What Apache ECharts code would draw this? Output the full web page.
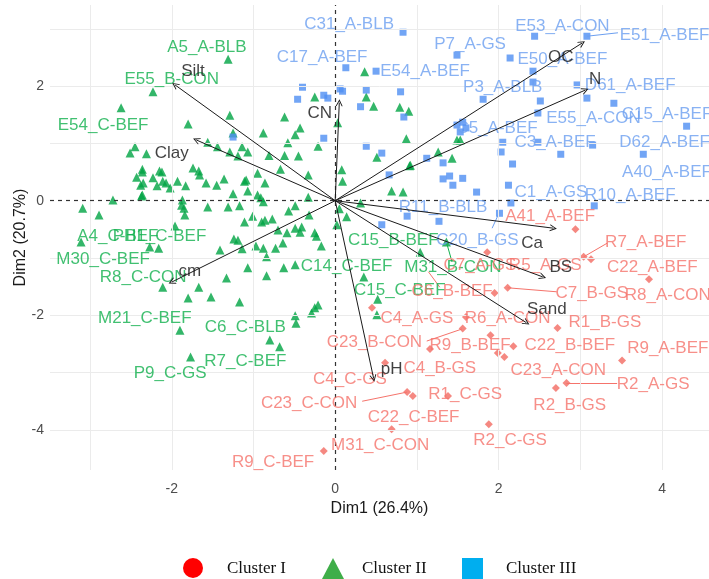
<!DOCTYPE html>
<html>
<head>
<meta charset="utf-8">
<script src="https://cdn.jsdelivr.net/npm/echarts@6/dist/echarts.min.js"></script>
<style>html,body{margin:0;padding:0;background:#fff}#c{width:709px;height:579px}</style>
</head>
<body>
<div id="c"></div>
<script>
// ---------- DATA ----------
const xTicks = [-2, 0, 2, 4];
const yTicks = [-4, -2, 0, 2];
const xGrid = [-3, -2, -1, 1, 2, 3, 4];
const yGrid = [-4, -3, -2, -1, 1, 2, 3];
const xTitle = 'Dim1 (26.4%)';
const yTitle = 'Dim2 (20.7%)';
const legendNames = ['Cluster I', 'Cluster II', 'Cluster III'];

// Cluster I (red)
const clusterIPoints = [
  [2.94,-0.50],[3.04,-0.98],[3.13,-1.02],[3.84,-1.37],[1.86,-0.90],[2.11,-1.52],[1.95,-1.61],
  [1.60,-2.03],[2.72,-2.22],[0.45,-1.87],[1.56,-2.23],[1.90,-2.35],[2.18,-2.54],[1.99,-2.66],
  [2.07,-2.73],[3.51,-2.79],[2.83,-3.18],[2.70,-3.27],[1.88,-3.90],[1.16,-2.59],[0.61,-2.83],
  [0.88,-3.34],[0.95,-3.41],[1.38,-3.41],[0.69,-3.99],[-0.14,-4.37]
];
// Cluster II (green)
const clusterIIPoints = [
  [-1.31,2.47],[-2.23,1.90],[-2.62,1.62],[-1.80,1.34],[-1.29,1.49],[-1.25,1.18],[-1.56,1.02],
  [-1.44,0.94],[-1.29,0.85],[-1.14,0.94],[-1.07,0.85],[-1.19,0.78],[-2.45,0.94],[-2.51,0.83],
  [-2.31,0.82],[-2.36,0.55],[-2.15,0.52],[-2.43,0.41],[-2.23,0.40],[-2.11,0.34],[-2.07,0.31],
  [-2.38,0.27],[-2.18,0.26],[-2.02,0.22],[-1.93,0.34],[-1.83,0.26],[-1.74,0.57],[-1.67,0.52],
  [-1.66,0.45],[-1.58,0.31],[-1.45,0.27],[-1.36,0.38],[-1.09,0.36],[-1.07,0.17],[-1.25,0.12],
  [-0.95,0.10],[-2.37,0.08],[-2.72,0.01],[-3.09,-0.13],[-2.89,-0.25],[-1.87,0.01],[-1.88,-0.08],
  [-1.85,-0.13],[-1.84,-0.25],[-1.56,-0.11],[-1.17,-0.09],[-1.01,-0.27],
  [0.36,2.25],[-0.25,1.81],[0.38,1.81],[0.47,1.65],[0.79,1.63],[0.90,1.56],[-0.62,1.46],
  [-0.88,1.18],[-0.43,1.27],[-0.49,1.15],[-0.58,1.01],[-0.21,0.95],[0.03,1.36],[0.51,0.76],
  [0.87,1.08],[-0.81,0.79],[-0.62,0.79],[-0.45,0.78],[1.26,0.85],[1.43,0.74],[0.92,0.62],
  [1.49,1.06],[1.53,1.06],
  [-0.95,0.48],[-0.67,0.55],[-0.33,0.45],[-1.11,0.34],[-0.86,0.31],[-0.91,0.05],[-0.88,-0.02],
  [-0.33,0.06],[0.08,0.54],[0.09,0.34],[0.69,0.17],[0.83,0.15],[0.91,0.61],[-0.57,-0.18],
  [-0.49,-0.09],[-0.32,-0.25],[0.05,-0.14],[0.14,-0.28],[-1.11,-0.37],[-0.90,-0.37],[-0.86,-0.34],
  [-0.77,-0.32],[-0.70,-0.51],[-0.49,-0.48],[-0.43,-0.55],[-0.41,-0.46],[-0.25,-0.56],[-0.23,-0.62],
  [-0.59,-0.56],[0.02,-0.42],[-1.24,-0.67],[-1.19,-0.69],[-0.97,-0.79],[-0.88,-0.83],[-0.73,-0.83],
  [-0.64,-0.74],[-0.17,-0.79],[-1.14,-0.84],[-0.84,-0.98],[-1.07,-1.17],[-0.84,-1.31],[-0.63,-1.17],
  [-0.49,-1.12],[0.35,-1.33],[1.04,-0.90],[0.52,-1.72],[0.51,-1.99],[-1.17,-1.77],[-0.21,-1.82],
  [-0.25,-1.87],[-0.29,-1.96],[-0.49,-2.01],[-0.48,-2.14],[0.31,-0.04],[1.36,-0.72],
  [-3.11,-0.72],[-2.36,0.10],[-2.36,0.50],[-2.35,0.31],[-2.12,0.50],[-1.31,-0.11],[-1.96,-0.44],
  [-2.27,-0.81],[-2.16,-0.83],[-1.41,-0.86],[-2.11,-1.51],[-1.67,-1.51],[-1.33,-1.35],[-1.80,-1.70],
  [-1.52,-1.68],[-1.90,-2.26],[-1.77,-2.73],[-0.80,-2.43],[-0.68,-2.55]
];
// Cluster III (blue)
const clusterIIIPoints = [
  [0.83,2.94],[1.49,2.54],[0.13,2.32],[0.50,2.26],[-0.40,1.98],[-0.46,1.77],[-0.14,1.84],
  [-0.09,1.79],[0.06,1.95],[0.09,1.91],[0.38,1.93],[0.80,1.90],[0.31,1.64],[0.84,1.46],
  [-0.14,1.09],[0.38,0.95],[0.57,0.83],[-1.25,1.11],[1.12,0.74],[1.32,0.66],[2.44,2.87],
  [3.08,2.87],[2.14,2.49],[2.42,2.26],[2.42,2.07],[2.96,2.02],[2.51,1.74],[2.48,1.53],
  [3.08,1.79],[3.41,1.70],[1.81,1.77],[4.30,1.30],[2.05,1.02],[2.03,0.85],[2.48,1.02],
  [2.76,0.81],[3.15,0.97],[3.77,0.81],[2.17,0.64],[1.49,1.32],[1.56,1.37],[1.60,1.27],
  [1.53,1.20],[1.40,0.43],[1.32,0.38],[1.44,0.27],[1.56,0.39],[1.73,0.15],[2.12,0.27],
  [2.15,-0.04],[2.01,-0.22],[3.17,-0.09],[0.66,0.45],[0.57,-0.42],[0.88,-0.27],[1.27,-0.36]
];

// Sample labels: [name, x, y]
const clusterILabels = [
  ['A41_A-BEF',2.63,-0.28],['R7_A-BEF',3.80,-0.72],['C22_A-BEF',3.88,-1.16],['R8_A-CON',4.07,-1.66],
  ['C7_A-GS',1.77,-1.12],['R5_A-GS',2.57,-1.12],['C6_B-BEF',1.43,-1.59],['C7_B-GS',3.14,-1.61],
  ['C4_A-GS',1.00,-2.05],['R6_A-CON',2.11,-2.05],['R1_B-GS',3.30,-2.12],['C23_B-CON',0.48,-2.48],
  ['R9_B-BEF',1.65,-2.52],['C22_B-BEF',2.87,-2.52],['R9_A-BEF',4.07,-2.57],['C4_B-GS',1.28,-2.92],
  ['C4_C-GS',0.18,-3.11],['C23_A-CON',2.73,-2.96],['R2_A-GS',3.89,-3.20],['R2_B-GS',2.87,-3.57],
  ['C23_C-CON',-0.32,-3.53],['R1_C-GS',1.59,-3.38],['C22_C-BEF',0.96,-3.78],['R2_C-GS',2.14,-4.18],
  ['M31_C-CON',0.55,-4.27],['R9_C-BEF',-0.76,-4.56]
];
const clusterIILabels = [
  ['A5_A-BLB',-1.57,2.67],['E55_B-CON',-2.00,2.12],['E54_C-BEF',-2.84,1.32],['A4_C-BEF',-2.66,-0.63],
  ['PH1_C-BEF',-2.15,-0.63],['M30_C-BEF',-2.84,-1.02],['R8_C-CON',-2.35,-1.33],['M21_C-BEF',-2.33,-2.05],
  ['C6_C-BLB',-1.10,-2.21],['P9_C-GS',-2.02,-3.01],['R7_C-BEF',-1.10,-2.80],['C14_C-BEF',0.14,-1.14],
  ['C15_B-BEF',0.71,-0.69],['M31_B-CON',1.44,-1.16],['C15_C-BEF',0.79,-1.56]
];
const clusterIIILabels = [
  ['C31_A-BLB',0.17,3.07],['P7_A-GS',1.65,2.73],['C17_A-BEF',-0.16,2.51],['E54_A-BEF',1.10,2.26],
  ['E53_A-CON',2.78,3.05],['E51_A-BEF',4.03,2.89],['E50_A-BEF',2.78,2.47],['P3_A-BLB',2.05,1.97],
  ['D61_A-BEF',3.61,2.02],['C5_A-BEF',1.98,1.27],['E55_A-CON',3.16,1.44],['C15_A-BEF',4.06,1.50],
  ['C3_A-BEF',2.69,1.01],['D62_A-BEF',4.03,1.01],['A40_A-BEF',4.06,0.50],['C1_A-GS',2.64,0.15],
  ['R10_A-BEF',3.61,0.10],['R11_B-BLB',1.32,-0.11],['C20_B-GS',1.74,-0.69]
];
// label connector segments [cluster index, [x1,y1],[x2,y2]]
const labelSegments = [
  [2,[3.08,2.87],[3.46,2.93]],[0,[3.04,-0.98],[3.33,-0.74]],[0,[2.11,-1.52],[2.71,-1.59]],
  [0,[2.83,-3.18],[3.45,-3.18]],[0,[0.88,-3.34],[0.33,-3.50]],[0,[1.55,-2.24],[1.12,-2.45]],
  [2,[2.01,-0.20],[1.92,-0.48]],[1,[1.36,-0.72],[1.43,-1.07]],[0,[1.28,-1.51],[1.14,-1.24]]
];

// Variable arrows: names and loadings
const varNames = ['Silt','Clay','CN','OC','N','Ca','BS','Sand','pH','cm'];
const varX = [-1.96,-1.70,0.05,3.02,3.06,2.67,2.54,2.34,0.47,-2.00];
const varY = [2.02,1.06,1.71,2.75,1.93,-0.48,-1.33,-2.13,-3.10,-1.42];
const varLabelX = [-1.74,-2.00,-0.19,2.76,3.18,2.41,2.76,2.59,0.69,-1.78];
const varLabelY = [2.25,0.83,1.52,2.51,2.11,-0.74,-1.16,-1.89,-2.94,-1.24];

// ---------- STYLE ----------
const ptColors = ['#F26A62', '#00A444', '#4F8FF2'];
const txtColors = ['#F5736B', '#12B04E', '#6C9FF0'];
const legendColors = ['#FF0000', '#3FAE49', '#00AEEF'];
const FONT = '"Liberation Sans", Arial, sans-serif';

const chart = echarts.init(document.getElementById('c'), null, {renderer: 'canvas'});

function labelSeries(arr, ci) {
  return {
    type: 'scatter', symbolSize: 0, silent: true, z: 5,
    data: arr.map(l => ({name: l[0], value: [l[1], l[2]]})),
    label: {show: true, position: 'inside', formatter: '{b}', color: txtColors[ci],
      fontSize: 17, fontFamily: FONT}
  };
}

const option = {
  backgroundColor: '#fff',
  animation: false,
  grid: {left: 50, right: 0, top: 5, bottom: 109},
  xAxis: {
    type: 'value', min: -3.49, max: 4.574,
    axisLine: {show: false}, splitLine: {show: false},
    axisTick: {show: true, customValues: xTicks, length: 4, lineStyle: {color: '#333'}},
    axisLabel: {customValues: xTicks, color: '#4D4D4D', fontSize: 14, fontFamily: FONT, margin: 12},
    name: xTitle, nameLocation: 'middle', nameGap: 30,
    nameTextStyle: {color: '#1a1a1a', fontSize: 16, fontFamily: FONT}
  },
  yAxis: {
    type: 'value', min: -4.70, max: 3.415,
    axisLine: {show: false}, splitLine: {show: false},
    axisTick: {show: true, customValues: yTicks, length: 4, lineStyle: {color: '#333'}},
    axisLabel: {customValues: yTicks, color: '#4D4D4D', fontSize: 14, fontFamily: FONT, margin: 6},
    name: yTitle, nameLocation: 'middle', nameGap: 21, nameRotate: 90, nameMoveOverlap: false,
    nameTextStyle: {color: '#1a1a1a', fontSize: 16, fontFamily: FONT}
  },
  series: [
    {
      type: 'scatter', data: [], silent: true, z: 0,
      markLine: {
        silent: true, symbol: 'none', animation: false, label: {show: false},
        lineStyle: {color: '#EBEBEB', width: 1, type: 'solid'},
        data: xGrid.map(v => ({xAxis: v})).concat(yGrid.map(v => ({yAxis: v})))
      }
    },
    {
      type: 'scatter', data: [], silent: true, z: 1,
      markLine: {
        silent: true, symbol: 'none', animation: false, label: {show: false},
        lineStyle: {color: '#333', width: 1.2, type: [4, 4]},
        data: [{xAxis: 0}, {yAxis: 0}]
      }
    },
    {type: 'scatter', name: legendNames[1], data: clusterIIPoints, symbol: 'triangle', symbolSize: 9,
      itemStyle: {color: ptColors[1]}, z: 2},
    {type: 'scatter', name: legendNames[2], data: clusterIIIPoints, symbol: 'rect', symbolSize: 7,
      itemStyle: {color: ptColors[2]}, z: 2},
    {type: 'scatter', name: legendNames[0], data: clusterIPoints, symbol: 'diamond', symbolSize: 8,
      itemStyle: {color: ptColors[0]}, z: 2},
    {
      type: 'lines', coordinateSystem: 'cartesian2d', silent: true, z: 4,
      data: labelSegments.map(s => ({coords: [s[1], s[2]], lineStyle: {color: txtColors[s[0]], opacity: 1}})),
      lineStyle: {width: 1, opacity: 1}
    },
    labelSeries(clusterIILabels, 1),
    labelSeries(clusterIIILabels, 2),
    labelSeries(clusterILabels, 0),
    {
      type: 'lines', coordinateSystem: 'cartesian2d', silent: true, z: 6,
      symbol: ['none', 'path://M5,0 L10,10 L8.6,10 L5,3 L1.4,10 L0,10 Z'], symbolSize: [9, 7],
      lineStyle: {color: '#1a1a1a', width: 1, opacity: 1},
      data: varNames.map((n, i) => ({coords: [[0, 0], [varX[i], varY[i]]]}))
    },
    {
      type: 'scatter', symbolSize: 0, silent: true, z: 7,
      data: varNames.map((n, i) => ({name: n, value: [varLabelX[i], varLabelY[i]]})),
      label: {show: true, position: 'inside', formatter: '{b}', color: '#111', fontSize: 17, fontFamily: FONT}
    }
  ],
  graphic: [
    {type: 'circle', shape: {cx: 193, cy: 568, r: 10}, style: {fill: legendColors[0]}},
    {type: 'text', left: 227, top: 560, style: {text: legendNames[0], fill: '#111', font: '17px "Liberation Serif", serif'}},
    {type: 'polygon', shape: {points: [[322, 579], [333, 558], [344, 579]]}, style: {fill: legendColors[1]}},
    {type: 'text', left: 362, top: 560, style: {text: legendNames[1], fill: '#111', font: '17px "Liberation Serif", serif'}},
    {type: 'rect', shape: {x: 462, y: 558, width: 21, height: 21}, style: {fill: legendColors[2]}},
    {type: 'text', left: 506, top: 560, style: {text: legendNames[2], fill: '#111', font: '17px "Liberation Serif", serif'}}
  ]
};
chart.setOption(option);
</script>
</body>
</html>
